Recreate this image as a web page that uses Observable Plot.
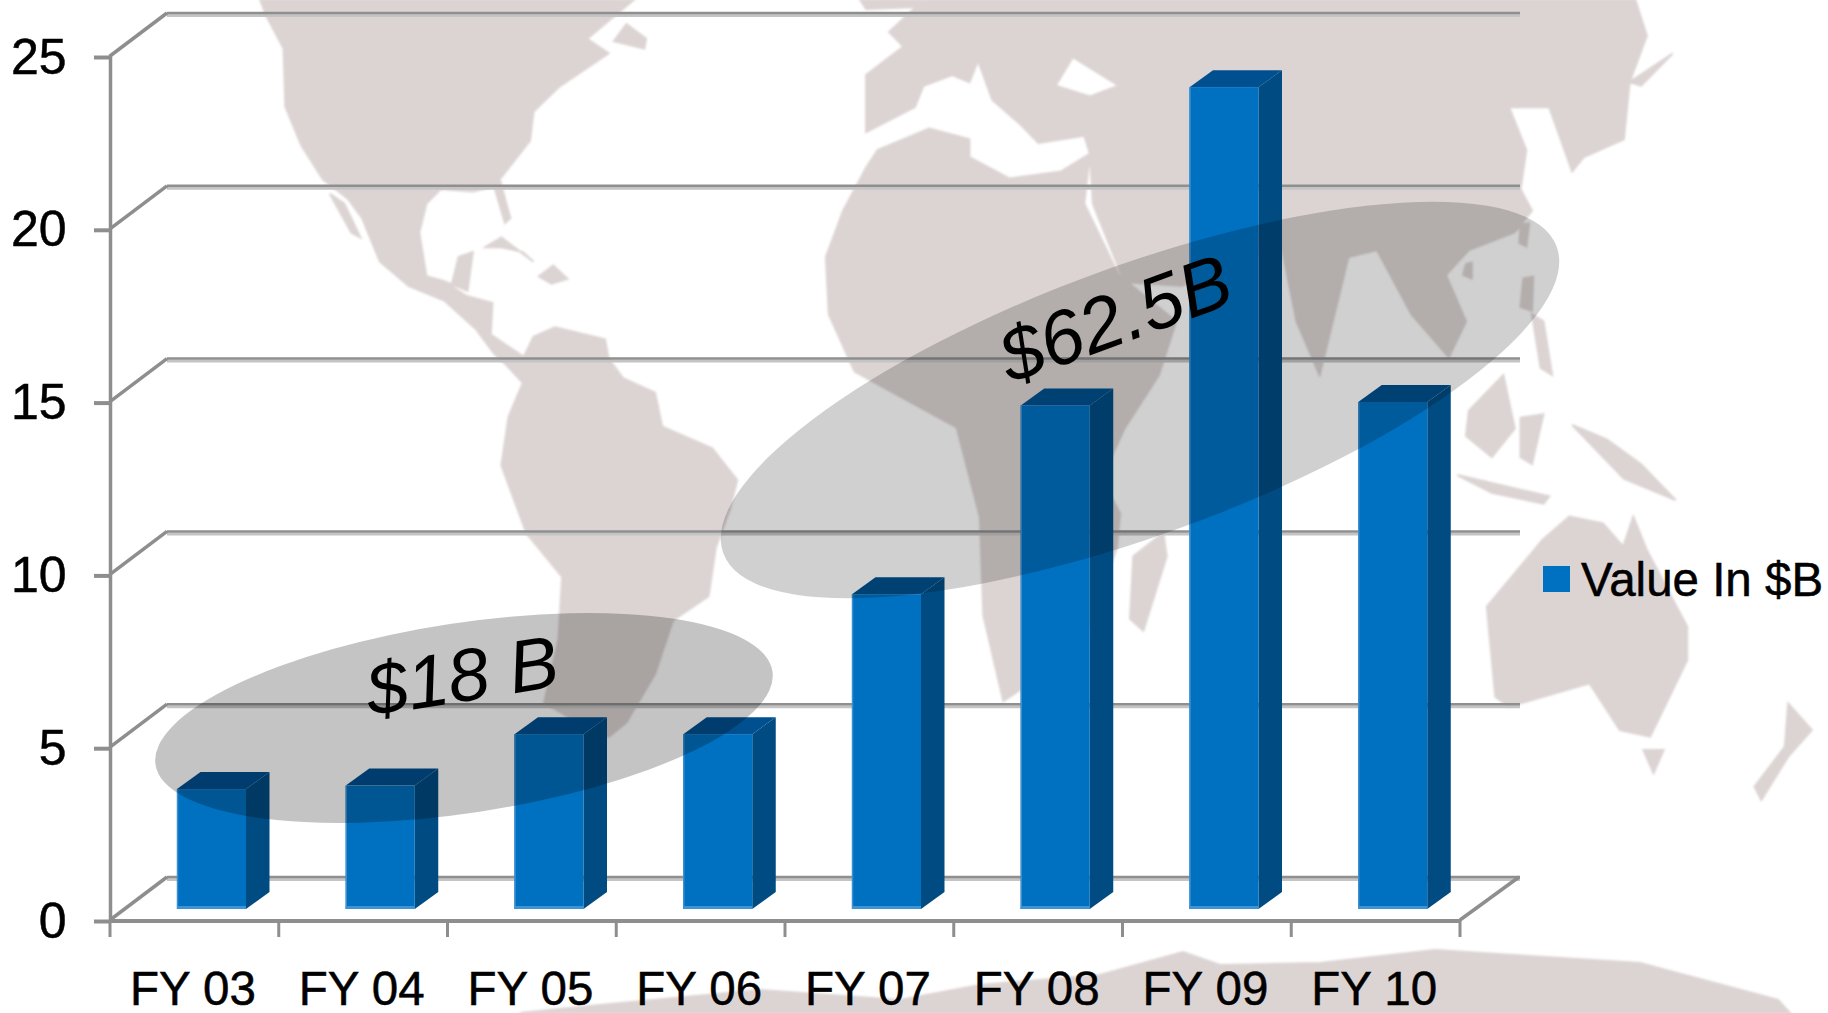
<!DOCTYPE html>
<html><head><meta charset="utf-8">
<script src="https://cdn.jsdelivr.net/npm/d3@7"></script>
<script src="https://cdn.jsdelivr.net/npm/@observablehq/plot@0.6"></script>
<style>
html,body{margin:0;padding:0;background:#fff;overflow:hidden}
#c{position:relative;width:1828px;height:1013px}
svg{display:block}
svg g[aria-label$="tick label"] text{stroke:#000;stroke-width:.5px}
.legend{position:absolute;left:1543px;top:566px;display:flex;align-items:center;font:47.5px "Liberation Sans",Arial,sans-serif;color:#000;height:26px;white-space:nowrap;-webkit-text-stroke:.5px #000}
.legend i{display:block;width:27px;height:26px;background:#0070c0;margin-right:11px}
</style></head><body><div id="c"></div>
<script>
const categories = ["FY 03","FY 04","FY 05","FY 06","FY 07","FY 08","FY 09","FY 10"];
const values = [3.47,3.57,5.06,5.06,9.11,14.57,23.78,14.67];
const yTicks = [0,5,10,15,20,25];
const seriesName = "Value In $B";
const groups = [
  {label:"$18 B", cx:464, cy:718, a:312, b:95, angle:-8.6, opacity:.23, tx:466, ty:701, size:74, rot:-9},
  {label:"$62.5B", cx:1140, cy:400, a:444, b:134, angle:-20.2, opacity:.185, tx:1124, ty:343, size:76, rot:-20}
];

// Decorative world map behind the chart.
const z4 = p => p.map(([X,Y]) => [780+X/1.742, Y/2.8]);
const z5 = p => p.map(([X,Y]) => [230+X/2.8, Y/2.063]);
const z3 = p => p.map(([X,Y]) => [1300+X/2.97, 500+Y/3]);
const z6 = p => p.map(([X,Y]) => [900+X/3, 400+Y/2.558]);
const land = [
 z5([[85,0],[100,30],[150,100],[155,220],[200,300],[260,370],[330,410],[370,450],[420,540],[500,590],[600,620],[690,680],[740,730],[770,750],[820,735],[730,690],[735,625],[660,610],[620,590],[640,530],[680,520],[665,600],[600,580],[550,570],[530,480],[550,420],[590,390],[680,395],[740,385],[770,460],[785,450],[755,370],[840,290],[850,230],[920,180],[980,150],[1060,110],[1000,80],[1130,0]]),
 z5([[770,750],[820,740],[850,695],[910,675],[1050,700],[1060,740],[1100,780],[1190,810],[1210,880],[1350,925],[1420,990],[1400,1050],[1360,1130],[1340,1230],[1240,1280],[1190,1390],[1110,1490],[1060,1520],[950,1480],[880,1450],[920,1320],[930,1190],[830,1100],[760,960],[780,860],[820,790]]),
 z5([[280,400],[320,420],[365,490],[340,480]]),
 z5([[715,510],[760,490],[850,540],[820,520],[760,510]]),
 z5([[865,570],[905,548],[945,575],[900,585]]),
 z5([[1075,85],[1110,50],[1165,80],[1160,100]]),
 z4([[80,720],[110,590],[150,470],[170,420],[260,360],[330,390],[330,440],[400,500],[490,480],[540,430],[530,570],[590,770],[690,900],[660,1050],[600,1200],[560,1340]]).concat(z6([[660,290],[650,380],[540,640],[310,770],[250,550],[240,300],[170,70]])).concat(z4([[130,1040],[85,880]])),
 z6([[700,400],[790,340],[800,400],[730,590],[690,560]]),
 z4([[250,0],[1490,0],[1510,100],[1480,230],[1470,390],[1400,440],[1380,480],[1340,300],[1270,300],[1300,420],[1290,530],[1310,590],[1280,650],[1200,700],[1160,770],[1195,900],[1165,1000],[1100,880],[1040,700],[990,720],[940,1050],[900,900],[875,700],[800,720],[700,800],[600,790],[545,570],[540,430],[530,380],[450,400],[420,350],[370,280],[345,170],[330,230],[300,210],[250,240],[235,300],[150,370],[150,210],[215,130],[190,90]]),
 z4([[480,240],[510,160],[590,240],[540,270]]),
 z4([[140,0],[245,0],[240,20],[150,25]]),
 z4([[1480,230],[1555,150],[1500,240]]),
 z4([[1290,630],[1305,625],[1300,690],[1288,680]]),
 z4([[1195,740],[1205,735],[1205,780],[1190,770]]),
 z4([[1295,780],[1312,775],[1310,870],[1290,860]]),
 z4([[1310,880],[1330,900],[1345,1050],[1325,1030]]),
 z4([[1200,1150],[1260,1050],[1280,1200],[1240,1280],[1195,1220]]),
 z4([[1290,1170],[1330,1160],[1310,1300],[1290,1280]]),
 z4([[1380,1190],[1440,1230],[1500,1300],[1560,1400],[1470,1340]]),
 z4([[1180,1330],[1260,1360],[1340,1390],[1330,1410],[1240,1380]]),
 z3([[555,320],[720,120],[800,50],[900,70],[960,140],[990,50],[1030,150],[1150,380],[1150,480],[1040,710],[950,690],[860,550],[620,620],[580,590]]),
 z3([[1020,750],[1080,750],[1050,820]]),
 z3([[1450,610],[1520,690],[1450,770],[1370,900],[1350,860],[1440,740]]),
 [[520,1013],[600,1005],[760,990],[900,1000],[980,985],[1100,975],[1183,952],[1220,965],[1320,963],[1435,950],[1640,963],[1778,1000],[1790,1013]]
];

const svgNS = "http://www.w3.org/2000/svg";
const el = (n, a) => { const e = document.createElementNS(svgNS, n); for (const k in a) e.setAttribute(k, a[k]); return e; };
const group = () => el("g", {});
const poly = pts => pts.map(p => p.join(",")).join(" ");

const depth = {dx:57, dy:-43};       // wall depth
const barDepth = {dx:23.5, dy:-17};  // bar depth
const barInset = {left:67, right:32.75};
const floorLift = -11;
const axisColor = "#8e8e8e";

const mapLayer = () => {
  const g = group();
  const f = el("filter", {id:"soft", x:"-5%", y:"-5%", width:"110%", height:"110%"});
  f.append(el("feGaussianBlur", {stdDeviation:.9}));
  g.append(f);
  const d = land.map(p => "M" + p.map(q => q.join(",")).join("L") + "Z").join("");
  g.append(el("path", {d, fill:"#dcd4d3", stroke:"#dcd4d3", "stroke-width":2, "fill-rule":"evenodd", filter:"url(#soft)"}));
  return g;
};

const wallDiagonals = (i, s) => {
  const g = group();
  const x0 = s.x(categories[0]);
  for (const t of yTicks) {
    const y = s.y(t);
    g.append(el("line", {x1:x0, y1:y, x2:x0+depth.dx, y2:y+depth.dy, stroke:axisColor, "stroke-width":3.5}));
  }
  const bw = s.scales.x.bandwidth;
  const xr = s.x(categories[categories.length-1]) + bw;
  g.append(el("line", {x1:xr, y1:s.y(0), x2:xr+depth.dx+2, y2:s.y(0)+depth.dy, stroke:axisColor, "stroke-width":3.5}));
  for (let k = 0; k <= categories.length; k++) {
    const x = x0 + k*bw;
    g.append(el("line", {x1:x, y1:s.y(0), x2:x, y2:s.y(0)+17, stroke:axisColor, "stroke-width":3}));
  }
  return g;
};

const barFaces = (i, s) => {
  const g = group();
  const bw = s.scales.x.bandwidth;
  categories.forEach((c, k) => {
    const x1 = s.x(c) + barInset.left, x2 = s.x(c) + bw - barInset.right;
    const top = s.y(values[k]) + floorLift, base = s.y(0) + floorLift;
    g.append(el("polygon", {points:poly([[x2,base],[x2+barDepth.dx,base+barDepth.dy],[x2+barDepth.dx,top+barDepth.dy],[x2,top]]), fill:"#004b82"}));
    g.append(el("polygon", {points:poly([[x1,top],[x1+barDepth.dx,top+barDepth.dy],[x2+barDepth.dx,top+barDepth.dy],[x2,top]]), fill:"#00508f"}));
  });
  return g;
};

const barEdges = (i, s) => {
  const g = group();
  const bw = s.scales.x.bandwidth;
  categories.forEach((c, k) => {
    const x1 = s.x(c) + barInset.left, x2 = s.x(c) + bw - barInset.right;
    const top = s.y(values[k]) + floorLift, base = s.y(0) + floorLift;
    g.append(el("line", {x1:x1+.5, y1:top, x2:x1+.5, y2:base, stroke:"#3d8fd0", "stroke-width":1.5}));
    g.append(el("line", {x1, y1:base-1.5, x2, y2:base-1.5, stroke:"#3f94d6", "stroke-width":3}));
  });
  return g;
};

const ellipses = () => {
  const g = group();
  for (const e of groups) {
    g.append(el("ellipse", {cx:0, cy:0, rx:e.a, ry:e.b, fill:"#000", "fill-opacity":e.opacity, transform:`translate(${e.cx},${e.cy}) rotate(${e.angle})`}));
  }
  return g;
};

const annotations = () => {
  const g = group();
  for (const e of groups) {
    const t = el("text", {"text-anchor":"middle", "font-family":"Liberation Sans, Arial, sans-serif", "font-style":"italic", "font-size":e.size, fill:"#000", transform:`translate(${e.tx},${e.ty}) rotate(${e.rot})`});
    t.textContent = e.label;
    g.append(t);
  }
  return g;
};

const chart = Plot.plot({
  width:1828, height:1013,
  marginLeft:110, marginRight:368, marginTop:56, marginBottom:93,
  style:{background:"transparent", fontFamily:"Liberation Sans, Arial, sans-serif", overflow:"visible"},
  x:{domain:categories, padding:0, round:false, axis:null},
  y:{domain:[0,25], grid:false, axis:null},
  marks:[
    mapLayer,
    Plot.ruleY(yTicks, {dx:depth.dx, dy:depth.dy+2, stroke:"#c4c4c4", strokeWidth:3, insetRight:-3}),
    Plot.ruleY(yTicks, {dx:depth.dx, dy:depth.dy-.5, stroke:"#8f8f8f", strokeWidth:2.5, insetRight:-3}),
    wallDiagonals,
    Plot.ruleY([0], {stroke:axisColor, strokeWidth:4, dy:.5}),
    Plot.frame({anchor:"left", stroke:axisColor, strokeWidth:3.5}),
    barFaces,
    Plot.barY(categories.map((c,k)=>({c, v:values[k]})), {x:"c", y:"v", fill:"#0070c0", insetLeft:barInset.left, insetRight:barInset.right, dy:floorLift}),
    barEdges,
    ellipses,
    annotations,
    Plot.axisY(yTicks, {anchor:"left", tickSize:16, tickPadding:28, fontSize:50, stroke:axisColor, strokeWidth:4, color:"#000", label:null, fill:"#000", dy:1}),
    Plot.axisX({anchor:"bottom", tickSize:0, tickPadding:51, fontSize:47.5, fill:"#000", label:null, dx:-2})
  ]
});
const root = document.getElementById("c");
root.append(chart);
const lg = document.createElement("div"); lg.className = "legend";
lg.innerHTML = `<i></i><span>${seriesName}</span>`;
root.append(lg);
</script></body></html>
